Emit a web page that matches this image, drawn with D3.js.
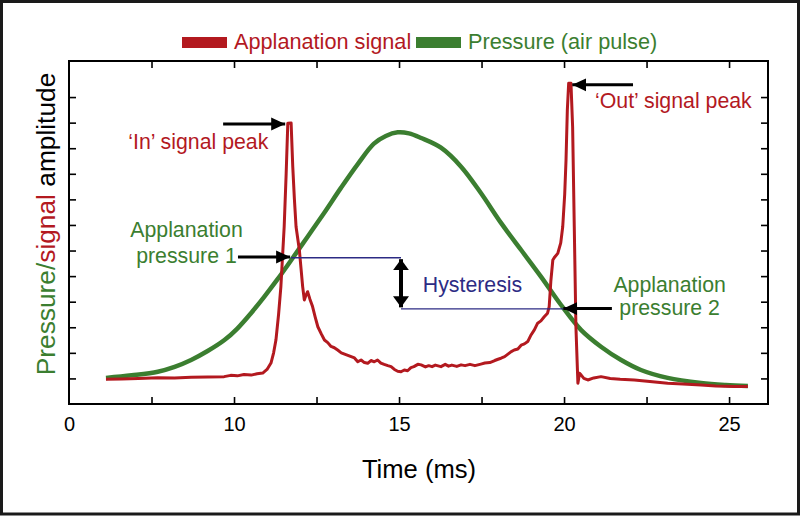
<!DOCTYPE html>
<html>
<head>
<meta charset="utf-8">
<script src="https://cdn.jsdelivr.net/npm/d3@7"></script>
<style>
  html, body { margin: 0; padding: 0; background: #fff; }
  svg { display: block; font-family: "Liberation Sans", Arial, Helvetica, sans-serif; }
</style>
</head>
<body>
<svg id="chart" width="800" height="516"></svg>
<script>
// ---------------- DATA ----------------
const xTickValues = [5, 10, 15, 20, 25];
const xTickLabels = ["0", "10", "15", "20", "25"];
const xMinorTicks = [7.5, 10, 12.5, 15, 17.5, 20, 22.5, 25];
const yTickValues = [1, 2, 3, 4, 5, 6, 7, 8, 9, 10, 11, 12];

// Pressure (air pulse) – time (ms), amplitude
const pressureT = [6.12, 6.9, 7.69, 8.2, 8.70, 9.2, 9.71, 10.1, 10.52, 10.92, 11.32, 11.73, 12.23, 12.73, 13.24, 13.75, 14.24, 14.6, 14.96, 15.3, 15.67, 16.27, 16.88, 17.48, 18.09, 18.70, 19.30, 19.91, 20.52, 21.12, 21.73, 22.33, 23.14, 24.15, 24.9, 25.57];
const pressureV = [1.02, 1.12, 1.26, 1.45, 1.72, 2.07, 2.50, 2.95, 3.56, 4.20, 4.88, 5.62, 6.54, 7.47, 8.45, 9.38, 10.18, 10.48, 10.62, 10.58, 10.40, 10.02, 9.28, 8.25, 7.08, 6.02, 4.98, 3.87, 2.89, 2.24, 1.72, 1.33, 1.02, 0.82, 0.74, 0.70];

// Applanation signal – time (ms), amplitude
const signalT = [6.12, 6.6, 7.1, 7.69, 8.2, 8.7, 9.2, 9.70, 9.9, 10.1, 10.3, 10.52, 10.7, 10.87, 11.0, 11.12, 11.2, 11.27, 11.35, 11.42, 11.52, 11.58, 11.63, 11.73, 11.78, 11.83, 11.88, 11.98, 12.03, 12.08, 12.13, 12.18, 12.23, 12.3, 12.38, 12.46, 12.54, 12.64, 12.74, 12.84, 12.94, 13.04, 13.14, 13.25, 13.35, 13.45, 13.55, 13.65, 13.75, 13.85, 13.95, 14.05, 14.15, 14.25, 14.35, 14.45, 14.55, 14.66, 14.76, 14.86, 14.96, 15.06, 15.16, 15.26, 15.36, 15.45, 15.57, 15.67, 15.8, 15.9, 16.0, 16.1, 16.27, 16.4, 16.5, 16.6, 16.75, 16.88, 17.0, 17.15, 17.3, 17.48, 17.6, 17.75, 17.9, 18.0, 18.09, 18.2, 18.3, 18.4, 18.49, 18.6, 18.7, 18.8, 18.9, 19.0, 19.1, 19.2, 19.3, 19.4, 19.5, 19.55, 19.6, 19.66, 19.72, 19.81, 19.9, 19.96, 20.02, 20.06, 20.1, 20.14, 20.21, 20.26, 20.31, 20.36, 20.42, 20.47, 20.52, 20.6, 20.72, 20.9, 21.12, 21.4, 21.7, 22.13, 22.6, 23.14, 23.6, 24.15, 24.6, 25.16, 25.57];
const signalV = [0.97, 0.98, 1.0, 1.03, 1.02, 1.05, 1.06, 1.07, 1.12, 1.10, 1.15, 1.13, 1.18, 1.21, 1.35, 1.60, 2.0, 2.50, 3.5, 4.59, 6.93, 9.0, 10.98, 10.99, 9.28, 8.0, 6.93, 6.02, 5.3, 4.59, 4.07, 4.25, 4.39, 4.1, 3.81, 3.4, 3.02, 2.75, 2.50, 2.40, 2.25, 2.20, 2.11, 2.00, 1.95, 1.90, 1.85, 1.80, 1.65, 1.72, 1.62, 1.59, 1.70, 1.65, 1.72, 1.60, 1.55, 1.50, 1.46, 1.35, 1.28, 1.26, 1.33, 1.30, 1.42, 1.46, 1.55, 1.53, 1.45, 1.50, 1.46, 1.52, 1.46, 1.55, 1.48, 1.52, 1.47, 1.53, 1.50, 1.55, 1.50, 1.56, 1.60, 1.62, 1.70, 1.75, 1.79, 1.85, 1.95, 2.05, 2.11, 2.15, 2.30, 2.35, 2.44, 2.70, 2.90, 3.16, 3.25, 3.41, 3.55, 3.81, 4.8, 5.63, 5.75, 5.89, 6.3, 6.93, 8.2, 9.54, 11.5, 12.54, 12.54, 10.84, 6.93, 3.02, 0.81, 1.2, 1.13, 1.0, 0.94, 1.02, 1.07, 1.0, 0.97, 0.94, 0.88, 0.81, 0.78, 0.74, 0.70, 0.68, 0.68];

const legendLabels = ["Applanation signal", "Pressure (air pulse)"];

// Annotations (data coordinates)
const hysteresisTop = { t0: 11.73, t1: 15.06, v: 5.72 };
const hysteresisBottom = { t0: 15.06, t1: 19.98, v: 3.72 };
const arrows = [
  { t0: 9.67, v0: 10.95, t1: 11.55, v1: 10.95 },   // 'In' peak
  { t0: 10.12, v0: 5.75, t1: 11.70, v1: 5.75 },    // Applanation pressure 1
  { t0: 22.09, v0: 12.48, t1: 20.25, v1: 12.48 },  // 'Out' peak
  { t0: 21.45, v0: 3.73, t1: 19.98, v1: 3.73 }     // Applanation pressure 2
];

// ---------------- LAYOUT ----------------
const W = 800, H = 516;
const pLeft = 69, pRight = 768, pTop = 61, pBottom = 404;
const red = "#b3191f", green = "#3b7e30", navy = "#2c2b84";

const svg = d3.select("#chart");
const x = d3.scaleLinear().domain([5, 26.18]).range([pLeft, pRight]);
const y = d3.scaleLinear().domain([0, 13.41]).range([pBottom, pTop]);

// outer frame
svg.append("rect").attr("x", 1.5).attr("y", 1.5).attr("width", W - 3).attr("height", H - 3.5)
  .attr("fill", "#fff").attr("stroke", "#1a1a1a").attr("stroke-width", 3);

const defs = svg.append("defs");
defs.append("marker").attr("id", "head").attr("markerUnits", "userSpaceOnUse")
  .attr("markerWidth", 16).attr("markerHeight", 14).attr("refX", 14).attr("refY", 7)
  .attr("orient", "auto")
  .append("path").attr("d", "M0,0.5 L14,7 L0,13.5 Z").attr("fill", "#000");
defs.append("marker").attr("id", "head2").attr("markerUnits", "userSpaceOnUse")
  .attr("markerWidth", 12).attr("markerHeight", 16).attr("refX", 11).attr("refY", 8)
  .attr("orient", "auto-start-reverse")
  .append("path").attr("d", "M0,0 L11,8 L0,16 Z").attr("fill", "#000");

// axes: ticks pointing inward
const tickLen = 7;
const gx = svg.append("g").attr("transform", `translate(0,${pBottom})`)
  .call(d3.axisBottom(x).tickValues(xMinorTicks).tickSizeInner(-tickLen).tickSizeOuter(0).tickFormat(""));
const gxT = svg.append("g").attr("transform", `translate(0,${pTop})`)
  .call(d3.axisTop(x).tickValues(xMinorTicks).tickSizeInner(-tickLen).tickSizeOuter(0).tickFormat(""));
const gyL = svg.append("g").attr("transform", `translate(${pLeft},0)`)
  .call(d3.axisLeft(y).tickValues(yTickValues).tickSizeInner(-tickLen).tickSizeOuter(0).tickFormat(""));
const gyR = svg.append("g").attr("transform", `translate(${pRight},0)`)
  .call(d3.axisRight(y).tickValues(yTickValues).tickSizeInner(-tickLen).tickSizeOuter(0).tickFormat(""));
[gx, gxT, gyL, gyR].forEach(g => {
  g.select(".domain").remove();
  g.selectAll(".tick line").attr("stroke", "#000").attr("stroke-width", 1.6);
});
svg.append("rect").attr("x", pLeft).attr("y", pTop).attr("width", pRight - pLeft).attr("height", pBottom - pTop)
  .attr("fill", "none").attr("stroke", "#000").attr("stroke-width", 2);

// x tick labels
const gl = svg.append("g").attr("transform", `translate(0,${pBottom})`)
  .call(d3.axisBottom(x).tickValues(xTickValues).tickSize(0).tickPadding(0)
    .tickFormat((d, i) => xTickLabels[i]));
gl.select(".domain").remove();
gl.selectAll(".tick text").attr("y", 27).attr("dy", 0).attr("font-size", 20)
  .attr("font-family", "'Liberation Sans', Arial, sans-serif").attr("fill", "#000");

// axis titles
svg.append("text").attr("x", 419).attr("y", 478).attr("text-anchor", "middle")
  .attr("font-size", 25.6).attr("fill", "#000").text("Time (ms)");
const yl = svg.append("text").attr("transform", "translate(55,224) rotate(-90)")
  .attr("text-anchor", "middle").attr("font-size", 26.3);
yl.append("tspan").attr("fill", green).text("Pressure/");
yl.append("tspan").attr("fill", red).text("signal");
yl.append("tspan").attr("fill", "#000").text(" amplitude");

// legend
const legendColors = [red, green];
const legendX = [182, 416];
legendLabels.forEach((lab, i) => {
  svg.append("rect").attr("x", legendX[i]).attr("y", 37).attr("width", 45).attr("height", 11)
    .attr("fill", legendColors[i]);
  svg.append("text").attr("x", legendX[i] + 52).attr("y", 49).attr("font-size", 21.7)
    .attr("fill", legendColors[i]).text(lab);
});

// series
const pressure = pressureT.map((t, i) => [t, pressureV[i]]);
const signal = signalT.map((t, i) => [t, signalV[i]]);
const smoothLine = d3.line().x(d => x(d[0])).y(d => y(d[1])).curve(d3.curveCatmullRom.alpha(0.5));
const rawLine = d3.line().x(d => x(d[0])).y(d => y(d[1]));
svg.append("path").datum(pressure).attr("d", smoothLine)
  .attr("fill", "none").attr("stroke", green).attr("stroke-width", 4.5).attr("stroke-linejoin", "round");
svg.append("path").datum(signal).attr("d", rawLine)
  .attr("fill", "none").attr("stroke", red).attr("stroke-width", 3).attr("stroke-linejoin", "round");

// hysteresis lines
[hysteresisTop, hysteresisBottom].forEach(h => {
  svg.append("line").attr("x1", x(h.t0)).attr("x2", x(h.t1)).attr("y1", y(h.v)).attr("y2", y(h.v))
    .attr("stroke", navy).attr("stroke-width", 1.4);
});
svg.append("line").attr("x1", x(15.06)).attr("x2", x(15.06))
  .attr("y1", y(hysteresisTop.v) + 1.5).attr("y2", y(hysteresisBottom.v) - 1.5)
  .attr("stroke", "#000").attr("stroke-width", 4)
  .attr("marker-start", "url(#head2)").attr("marker-end", "url(#head2)");

// arrows
arrows.forEach(a => {
  svg.append("line").attr("x1", x(a.t0)).attr("y1", y(a.v0)).attr("x2", x(a.t1)).attr("y2", y(a.v1))
    .attr("stroke", "#000").attr("stroke-width", 3).attr("marker-end", "url(#head)");
});

// annotation texts
const ann = [
  { t: 11.04, v: 9.97, anchor: "end", color: red, text: "\u2018In\u2019 signal peak" },
  { t: 8.56, v: 6.53, anchor: "middle", color: green, text: "Applanation" },
  { t: 8.56, v: 5.51, anchor: "middle", color: green, text: "pressure 1" },
  { t: 15.72, v: 4.38, anchor: "start", color: navy, text: "Hysteresis" },
  { t: 20.94, v: 11.57, anchor: "start", color: red, text: "\u2018Out\u2019 signal peak" },
  { t: 23.2, v: 4.39, anchor: "middle", color: green, text: "Applanation" },
  { t: 23.2, v: 3.48, anchor: "middle", color: green, text: "pressure 2" }
];
ann.forEach(a => {
  svg.append("text").attr("x", x(a.t)).attr("y", y(a.v)).attr("text-anchor", a.anchor)
    .attr("font-size", 21.3).attr("fill", a.color).text(a.text);
});
</script>
</body>
</html>
